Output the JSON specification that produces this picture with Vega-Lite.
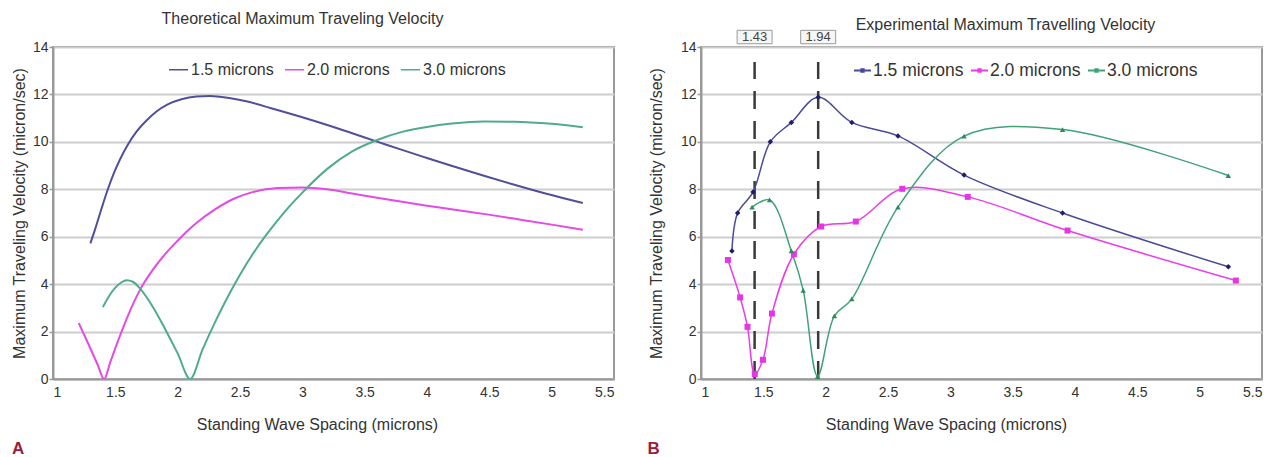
{
  "$schema": "https://vega.github.io/schema/vega-lite/v6.json",
  "background": "white",
  "padding": {"left": 10, "top": 10, "right": 0, "bottom": 0},
  "datasets": {
    "theory": [
      {"x": 1.30, "v": 5.72, "series": "1.5 microns"},
      {"x": 1.34, "v": 6.35, "series": "1.5 microns"},
      {"x": 1.39, "v": 7.2, "series": "1.5 microns"},
      {"x": 1.44, "v": 8.0, "series": "1.5 microns"},
      {"x": 1.49, "v": 8.7, "series": "1.5 microns"},
      {"x": 1.54, "v": 9.29, "series": "1.5 microns"},
      {"x": 1.60, "v": 9.88, "series": "1.5 microns"},
      {"x": 1.67, "v": 10.43, "series": "1.5 microns"},
      {"x": 1.75, "v": 10.9, "series": "1.5 microns"},
      {"x": 1.83, "v": 11.28, "series": "1.5 microns"},
      {"x": 1.92, "v": 11.58, "series": "1.5 microns"},
      {"x": 2.03, "v": 11.8, "series": "1.5 microns"},
      {"x": 2.15, "v": 11.91, "series": "1.5 microns"},
      {"x": 2.26, "v": 11.93, "series": "1.5 microns"},
      {"x": 2.40, "v": 11.86, "series": "1.5 microns"},
      {"x": 2.55, "v": 11.71, "series": "1.5 microns"},
      {"x": 2.75, "v": 11.42, "series": "1.5 microns"},
      {"x": 2.98, "v": 11.07, "series": "1.5 microns"},
      {"x": 3.20, "v": 10.71, "series": "1.5 microns"},
      {"x": 3.40, "v": 10.36, "series": "1.5 microns"},
      {"x": 3.60, "v": 10.01, "series": "1.5 microns"},
      {"x": 3.80, "v": 9.66, "series": "1.5 microns"},
      {"x": 4.00, "v": 9.32, "series": "1.5 microns"},
      {"x": 4.19, "v": 9.0, "series": "1.5 microns"},
      {"x": 4.45, "v": 8.58, "series": "1.5 microns"},
      {"x": 4.68, "v": 8.22, "series": "1.5 microns"},
      {"x": 4.95, "v": 7.82, "series": "1.5 microns"},
      {"x": 5.25, "v": 7.42, "series": "1.5 microns"},
      {"x": 1.206, "v": 2.36, "series": "2.0 microns"},
      {"x": 1.26, "v": 1.75, "series": "2.0 microns"},
      {"x": 1.31, "v": 1.17, "series": "2.0 microns"},
      {"x": 1.36, "v": 0.58, "series": "2.0 microns"},
      {"x": 1.41, "v": 0.0, "series": "2.0 microns"},
      {"x": 1.46, "v": 0.72, "series": "2.0 microns"},
      {"x": 1.50, "v": 1.3, "series": "2.0 microns"},
      {"x": 1.55, "v": 2.0, "series": "2.0 microns"},
      {"x": 1.60, "v": 2.65, "series": "2.0 microns"},
      {"x": 1.65, "v": 3.25, "series": "2.0 microns"},
      {"x": 1.70, "v": 3.78, "series": "2.0 microns"},
      {"x": 1.80, "v": 4.6, "series": "2.0 microns"},
      {"x": 1.90, "v": 5.27, "series": "2.0 microns"},
      {"x": 2.00, "v": 5.83, "series": "2.0 microns"},
      {"x": 2.08, "v": 6.25, "series": "2.0 microns"},
      {"x": 2.16, "v": 6.62, "series": "2.0 microns"},
      {"x": 2.30, "v": 7.15, "series": "2.0 microns"},
      {"x": 2.45, "v": 7.6, "series": "2.0 microns"},
      {"x": 2.60, "v": 7.88, "series": "2.0 microns"},
      {"x": 2.80, "v": 8.05, "series": "2.0 microns"},
      {"x": 3.00, "v": 8.08, "series": "2.0 microns"},
      {"x": 3.20, "v": 8.0, "series": "2.0 microns"},
      {"x": 3.40, "v": 7.82, "series": "2.0 microns"},
      {"x": 3.60, "v": 7.64, "series": "2.0 microns"},
      {"x": 3.80, "v": 7.47, "series": "2.0 microns"},
      {"x": 4.00, "v": 7.31, "series": "2.0 microns"},
      {"x": 4.25, "v": 7.12, "series": "2.0 microns"},
      {"x": 4.52, "v": 6.91, "series": "2.0 microns"},
      {"x": 4.75, "v": 6.72, "series": "2.0 microns"},
      {"x": 5.00, "v": 6.51, "series": "2.0 microns"},
      {"x": 5.25, "v": 6.29, "series": "2.0 microns"},
      {"x": 1.40, "v": 3.03, "series": "3.0 microns"},
      {"x": 1.45, "v": 3.5, "series": "3.0 microns"},
      {"x": 1.50, "v": 3.85, "series": "3.0 microns"},
      {"x": 1.55, "v": 4.08, "series": "3.0 microns"},
      {"x": 1.59, "v": 4.16, "series": "3.0 microns"},
      {"x": 1.64, "v": 4.1, "series": "3.0 microns"},
      {"x": 1.70, "v": 3.8, "series": "3.0 microns"},
      {"x": 1.80, "v": 3.05, "series": "3.0 microns"},
      {"x": 1.90, "v": 2.1, "series": "3.0 microns"},
      {"x": 2.00, "v": 1.08, "series": "3.0 microns"},
      {"x": 2.10, "v": 0.0, "series": "3.0 microns"},
      {"x": 2.20, "v": 1.25, "series": "3.0 microns"},
      {"x": 2.30, "v": 2.4, "series": "3.0 microns"},
      {"x": 2.40, "v": 3.45, "series": "3.0 microns"},
      {"x": 2.50, "v": 4.4, "series": "3.0 microns"},
      {"x": 2.60, "v": 5.25, "series": "3.0 microns"},
      {"x": 2.70, "v": 6.0, "series": "3.0 microns"},
      {"x": 2.80, "v": 6.68, "series": "3.0 microns"},
      {"x": 2.90, "v": 7.3, "series": "3.0 microns"},
      {"x": 3.00, "v": 7.86, "series": "3.0 microns"},
      {"x": 3.20, "v": 8.86, "series": "3.0 microns"},
      {"x": 3.40, "v": 9.6, "series": "3.0 microns"},
      {"x": 3.60, "v": 10.08, "series": "3.0 microns"},
      {"x": 3.80, "v": 10.42, "series": "3.0 microns"},
      {"x": 4.00, "v": 10.63, "series": "3.0 microns"},
      {"x": 4.20, "v": 10.77, "series": "3.0 microns"},
      {"x": 4.45, "v": 10.86, "series": "3.0 microns"},
      {"x": 4.70, "v": 10.85, "series": "3.0 microns"},
      {"x": 5.00, "v": 10.76, "series": "3.0 microns"},
      {"x": 5.25, "v": 10.62, "series": "3.0 microns"}
    ],
    "exp": [
      {"x": 1.248, "v": 5.4, "series": "1.5 microns"},
      {"x": 1.294, "v": 7.0, "series": "1.5 microns"},
      {"x": 1.418, "v": 7.89, "series": "1.5 microns"},
      {"x": 1.556, "v": 10.0, "series": "1.5 microns"},
      {"x": 1.725, "v": 10.82, "series": "1.5 microns"},
      {"x": 1.94, "v": 11.88, "series": "1.5 microns"},
      {"x": 2.21, "v": 10.82, "series": "1.5 microns"},
      {"x": 2.58, "v": 10.25, "series": "1.5 microns"},
      {"x": 3.11, "v": 8.6, "series": "1.5 microns"},
      {"x": 3.90, "v": 7.0, "series": "1.5 microns"},
      {"x": 5.23, "v": 4.73, "series": "1.5 microns"},
      {"x": 1.216, "v": 5.02, "series": "2.0 microns"},
      {"x": 1.314, "v": 3.44, "series": "2.0 microns"},
      {"x": 1.373, "v": 2.2, "series": "2.0 microns"},
      {"x": 1.431, "v": 0.21, "series": "2.0 microns"},
      {"x": 1.497, "v": 0.81, "series": "2.0 microns"},
      {"x": 1.569, "v": 2.76, "series": "2.0 microns"},
      {"x": 1.745, "v": 5.26, "series": "2.0 microns"},
      {"x": 1.964, "v": 6.43, "series": "2.0 microns"},
      {"x": 2.242, "v": 6.64, "series": "2.0 microns"},
      {"x": 2.614, "v": 8.02, "series": "2.0 microns"},
      {"x": 3.14, "v": 7.68, "series": "2.0 microns"},
      {"x": 3.94, "v": 6.26, "series": "2.0 microns"},
      {"x": 5.29, "v": 4.15, "series": "2.0 microns"},
      {"x": 1.41, "v": 7.25, "series": "3.0 microns"},
      {"x": 1.55, "v": 7.55, "series": "3.0 microns"},
      {"x": 1.725, "v": 5.4, "series": "3.0 microns"},
      {"x": 1.82, "v": 3.74, "series": "3.0 microns"},
      {"x": 1.935, "v": 0.11, "series": "3.0 microns"},
      {"x": 2.07, "v": 2.66, "series": "3.0 microns"},
      {"x": 2.21, "v": 3.38, "series": "3.0 microns"},
      {"x": 2.58, "v": 7.25, "series": "3.0 microns"},
      {"x": 3.11, "v": 10.24, "series": "3.0 microns"},
      {"x": 3.90, "v": 10.52, "series": "3.0 microns"},
      {"x": 5.23, "v": 8.58, "series": "3.0 microns"}
    ],
    "cuts": [
      {"x": 1.43, "label": "1.43"},
      {"x": 1.94, "label": "1.94"}
    ]
  },
  "spacing": 87,
  "bounds": "flush",
  "resolve": {"scale": {"color": "independent"}, "legend": {"color": "independent"}},
  "hconcat": [
    {
      "width": 561,
      "height": 332,
      "title": {"text": "Theoretical Maximum Traveling Velocity", "frame": "group", "anchor": "middle", "dx": -31, "offset": 0, "baseline": "alphabetic", "fontSize": 16, "fontWeight": "normal", "font": "Liberation Sans", "color": "#333"},
      "layer": [
        {
          "data": {"name": "theory"},
          "mark": {"type": "line", "interpolate": "monotone", "strokeWidth": 2, "clip": true},
          "encoding": {
            "x": {"field": "x", "type": "quantitative", "scale": {"domain": [1, 5.5], "nice": false, "zero": false},
              "axis": {"title": "Standing Wave Spacing (microns)", "values": [1, 1.5, 2, 2.5, 3, 3.5, 4, 4.5, 5, 5.5], "format": "~g", "ticks": false, "labelPadding": 6, "titlePadding": 17, "grid": false, "titleX": 264}},
            "y": {"field": "v", "type": "quantitative", "scale": {"domain": [0, 14], "nice": false},
              "axis": {"title": "Maximum Traveling Velocity (micron/sec)", "values": [0, 2, 4, 6, 8, 10, 12, 14], "format": "d", "tickSize": 4, "labelPadding": 1, "titlePadding": 5, "grid": true}},
            "color": {"field": "series", "type": "nominal",
              "scale": {"domain": ["1.5 microns", "2.0 microns", "3.0 microns"], "range": ["#50509a", "#e44ae4", "#4fac88"]},
              "legend": {"orient": "none", "legendX": 115, "legendY": 12, "direction": "horizontal", "title": null, "symbolType": "stroke", "symbolSize": 361, "symbolStrokeWidth": 1.5, "labelFontSize": 16, "labelColor": "#333", "labelOffset": 2, "columnPadding": 8}}
          }
        },
        {
          "data": {"values": [{}]},
          "mark": {"type": "text", "text": "A", "font": "Liberation Sans", "fontWeight": "bold", "fontSize": 17, "color": "#a01c36", "align": "center", "baseline": "middle"},
          "encoding": {
            "x": {"datum": 0.72, "type": "quantitative"},
            "y": {"datum": -2.95, "type": "quantitative"}
          }
        }
      ]
    },
    {
      "width": 561,
      "height": 332,
      "title": {"text": "Experimental Maximum Travelling Velocity", "frame": "group", "anchor": "middle", "dx": 24, "offset": -18, "baseline": "alphabetic", "fontSize": 16, "fontWeight": "normal", "font": "Liberation Sans", "color": "#333"},
      "layer": [
        {
          "data": {"name": "cuts"},
          "mark": {"type": "rule", "strokeDash": [18, 12], "strokeWidth": 2.5, "color": "#3a3a3a"},
          "encoding": {
            "x": {"field": "x", "type": "quantitative", "scale": {"domain": [1, 5.5], "nice": false, "zero": false},
              "axis": {"title": "Standing Wave Spacing (microns)", "values": [1, 1.5, 2, 2.5, 3, 3.5, 4, 4.5, 5, 5.5], "format": "~g", "ticks": false, "labelPadding": 6, "titlePadding": 17, "grid": false, "titleX": 245}},
            "y": {"datum": 0, "type": "quantitative", "scale": {"domain": [0, 14], "nice": false},
              "axis": {"title": "Maximum Traveling Velocity (micron/sec)", "values": [0, 2, 4, 6, 8, 10, 12, 14], "format": "d", "tickSize": 4, "labelPadding": 1, "titlePadding": 16, "grid": true}},
            "y2": {"datum": 13.37}
          }
        },
        {
          "data": {"name": "cuts"},
          "mark": {"type": "point", "shape": "M-1,-0.383H1V0.383H-1Z", "size": 1225, "filled": true, "fill": "#f6f6f6", "stroke": "#9a9a9a", "strokeWidth": 1, "opacity": 1},
          "encoding": {
            "x": {"field": "x", "type": "quantitative"},
            "y": {"datum": 14.42, "type": "quantitative"}
          }
        },
        {
          "data": {"name": "cuts"},
          "mark": {"type": "text", "font": "Liberation Sans", "fontSize": 13, "color": "#444", "align": "center", "baseline": "middle"},
          "encoding": {
            "x": {"field": "x", "type": "quantitative"},
            "y": {"datum": 14.42, "type": "quantitative"},
            "text": {"field": "label"}
          }
        },
        {
          "data": {"name": "exp"},
          "mark": {"type": "line", "interpolate": "catmull-rom", "strokeWidth": 1.5, "clip": true},
          "encoding": {
            "x": {"field": "x", "type": "quantitative"},
            "y": {"field": "v", "type": "quantitative"},
            "color": {"field": "series", "type": "nominal",
              "scale": {"domain": ["1.5 microns", "2.0 microns", "3.0 microns"], "range": ["#4a4a98", "#e83ee8", "#42a27a"]},
              "legend": {"orient": "none", "legendX": 152, "legendY": 14, "direction": "horizontal", "title": null, "symbolType": "M-1,0H1M-0.14,-0.14H0.14V0.14H-0.14Z", "symbolSize": 289, "symbolStrokeWidth": 2, "labelFontSize": 17.5, "labelColor": "#333", "labelOffset": 1, "columnPadding": 3}}
          }
        },
        {
          "data": {"name": "exp"},
          "transform": [{"filter": "datum.series === '1.5 microns'"}],
          "mark": {"type": "point", "shape": "diamond", "filled": true, "color": "#1e1e6e", "size": 30, "opacity": 1},
          "encoding": {
            "x": {"field": "x", "type": "quantitative"},
            "y": {"field": "v", "type": "quantitative"}
          }
        },
        {
          "data": {"name": "exp"},
          "transform": [{"filter": "datum.series === '2.0 microns'"}],
          "mark": {"type": "point", "shape": "square", "filled": true, "color": "#e535e5", "size": 36, "opacity": 1},
          "encoding": {
            "x": {"field": "x", "type": "quantitative"},
            "y": {"field": "v", "type": "quantitative"}
          }
        },
        {
          "data": {"name": "exp"},
          "transform": [{"filter": "datum.series === '3.0 microns'"}],
          "mark": {"type": "point", "shape": "triangle-up", "filled": true, "color": "#2c8c60", "size": 30, "opacity": 1},
          "encoding": {
            "x": {"field": "x", "type": "quantitative"},
            "y": {"field": "v", "type": "quantitative"}
          }
        },
        {
          "data": {"values": [{}]},
          "mark": {"type": "text", "text": "B", "font": "Liberation Sans", "fontWeight": "bold", "fontSize": 17, "color": "#a01c36", "align": "center", "baseline": "middle"},
          "encoding": {
            "x": {"datum": 0.62, "type": "quantitative"},
            "y": {"datum": -2.95, "type": "quantitative"}
          }
        }
      ]
    }
  ],
  "config": {
    "font": "Liberation Sans",
    "axis": {"labelFont": "Liberation Sans", "titleFont": "Liberation Sans", "labelFontSize": 14, "titleFontSize": 16, "titleFontWeight": "normal", "labelColor": "#333", "titleColor": "#333", "domainColor": "#999", "domainWidth": 2, "tickColor": "#999", "tickWidth": 1.5, "gridColor": "#cdcdcd", "gridWidth": 2},
    "legend": {"labelFont": "Liberation Sans"},
    "view": {"stroke": "#999", "strokeWidth": 2}
  }
}
